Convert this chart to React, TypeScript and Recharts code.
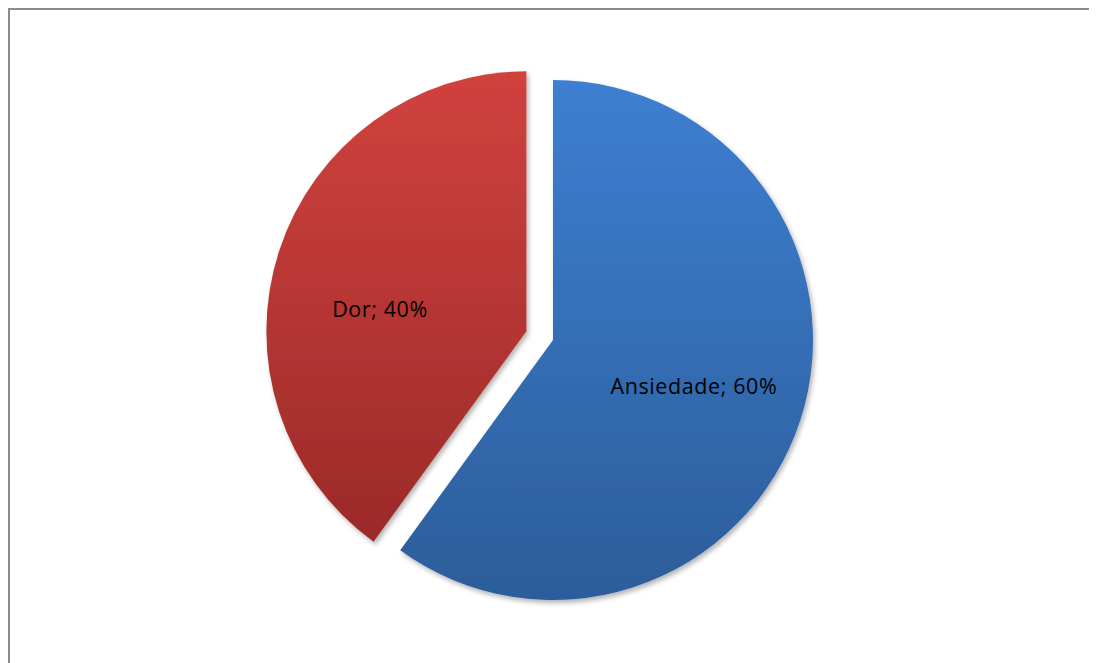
import { Cell, Pie, PieChart } from "recharts";

const categories = ["Ansiedade", "Dor"];
const values = [60, 40];
const explodedSlices = ["Dor"];

const chartData = categories.map((name, i) => ({ name, value: values[i] }));

const WIDTH = 1087;
const HEIGHT = 653;
const CX = 543;
const CY = 330;
const RADIUS = 260;
const EXPLODE = 28;
const START = 90;
const END = -270;

const gradientId: Record<string, string> = {
    Ansiedade: "grad-blue",
    Dor: "grad-red",
};

// Excel moves the small slice's label a bit toward the bottom
const labelAngleShift: Record<string, number> = {
    Ansiedade: 0,
    Dor: 9,
};

const RAD = Math.PI / 180;

function midAngleOf(name: string) {
    const total = values.reduce((a, b) => a + b, 0);
    let before = 0;
    for (let i = 0; i < categories.length; i++) {
        if (categories[i] === name) break;
        before += values[i];
    }
    const idx = categories.indexOf(name);
    return START + ((END - START) * (before + values[idx] / 2)) / total;
}

function makeLabel(only: string[]) {
    return (props: any) => {
        const { cx, cy, midAngle, outerRadius, name, percent } = props;
        if (!only.includes(name)) return null;
        const ang = (midAngle + (labelAngleShift[name] ?? 0)) * RAD;
        const r = outerRadius * 0.57;
        const x = cx + r * Math.cos(ang);
        const y = cy - r * Math.sin(ang);
        return (
            <text
                x={x}
                y={y}
                textAnchor="middle"
                dominantBaseline="central"
                fill="#000"
                fontSize={21.5}
                letterSpacing={0.6}
                fontFamily="'Open Sans', sans-serif">
                {`${name}; ${Math.round(percent * 100)}%`}
            </text>
        );
    };
}

export default function App() {
    const normal = categories.filter(c => !explodedSlices.includes(c));

    return (
        <div
            style={{
                width: WIDTH,
                height: HEIGHT,
                borderLeft: "2px solid #8c8c8c",
                borderTop: "2px solid #8c8c8c",
                background: "#fff",
            }}>
            <PieChart width={WIDTH} height={HEIGHT} margin={{ top: 0, right: 0, bottom: 0, left: 0 }}>
                <defs>
                    <linearGradient id="grad-blue" x1="0" y1="0" x2="0" y2="1">
                        <stop offset="0%" stopColor="#3d7fd1" />
                        <stop offset="100%" stopColor="#2c5d9a" />
                    </linearGradient>
                    <linearGradient id="grad-red" x1="0" y1="0" x2="0" y2="1">
                        <stop offset="0%" stopColor="#d1423e" />
                        <stop offset="100%" stopColor="#9b2a28" />
                    </linearGradient>
                    <filter id="shadow" x="-10%" y="-10%" width="120%" height="120%">
                        <feDropShadow dx="2" dy="3" stdDeviation="2.5" floodColor="#000" floodOpacity="0.3" />
                    </filter>
                </defs>
                <Pie
                    data={chartData}
                    dataKey="value"
                    nameKey="name"
                    cx={CX}
                    cy={CY}
                    outerRadius={RADIUS}
                    startAngle={START}
                    endAngle={END}
                    stroke="none"
                    labelLine={false}
                    label={makeLabel(normal)}
                    isAnimationActive={false}>
                    {chartData.map(d => (
                        <Cell
                            key={d.name}
                            fill={normal.includes(d.name) ? `url(#${gradientId[d.name]})` : "none"}
                            filter={normal.includes(d.name) ? "url(#shadow)" : undefined}
                        />
                    ))}
                </Pie>
                {explodedSlices.map(name => {
                    const mid = midAngleOf(name) * RAD;
                    return (
                        <Pie
                            key={name}
                            data={chartData}
                            dataKey="value"
                            nameKey="name"
                            cx={CX + EXPLODE * Math.cos(mid)}
                            cy={CY - EXPLODE * Math.sin(mid)}
                            outerRadius={RADIUS}
                            startAngle={START}
                            endAngle={END}
                            stroke="none"
                            labelLine={false}
                            label={makeLabel([name])}
                            isAnimationActive={false}>
                            {chartData.map(d => (
                                <Cell
                                    key={d.name}
                                    fill={d.name === name ? `url(#${gradientId[d.name]})` : "none"}
                                    filter={d.name === name ? "url(#shadow)" : undefined}
                                />
                            ))}
                        </Pie>
                    );
                })}
            </PieChart>
        </div>
    );
}
